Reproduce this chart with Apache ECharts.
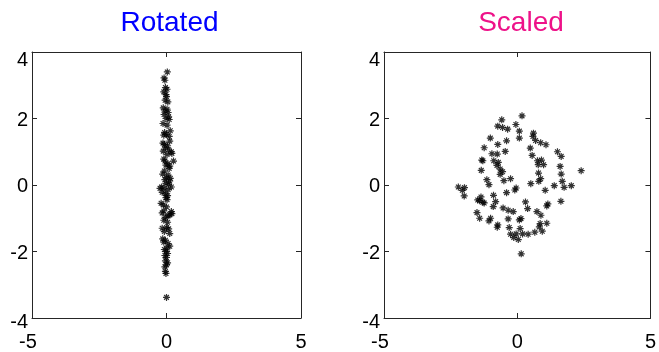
<!DOCTYPE html>
<html>
<head>
<meta charset="utf-8">
<script src="https://cdn.jsdelivr.net/npm/echarts@6/dist/echarts.min.js"></script>
<style>
  html, body { margin: 0; padding: 0; background: #fff; }
  #chart { width: 659px; height: 352px; }
</style>
</head>
<body>
<div id="chart"></div>
<script>
// Panel titles
const panelTitles = ['Rotated', 'Scaled'];

// Axis ticks shared by both panels
const xTicks = [-5, 0, 5];
const yTicks = [-4, -2, 0, 2, 4];

// Samples after rotation onto the principal axes
const rotatedPoints = [
  [0.03, 3.40], [-0.09, 3.22], [-0.06, 3.15], [-0.04, 2.93], [0.02, 2.88],
  [-0.10, 2.80], [-0.02, 2.72], [0.00, 2.66], [-0.05, 2.55], [0.05, 2.50],
  [-0.12, 2.32], [0.02, 2.28], [-0.05, 2.22], [0.06, 2.18], [-0.09, 2.12],
  [0.08, 2.05], [-0.02, 2.00], [0.10, 1.97],
  [-0.13, 1.85], [0.02, 1.80], [0.14, 1.63], [-0.07, 1.58], [0.00, 1.52],
  [0.10, 1.46], [-0.10, 1.50],
  [-0.13, 1.26], [-0.08, 1.22], [0.04, 1.18], [0.12, 1.32], [-0.04, 1.12],
  [0.08, 1.06], [0.18, 1.00], [-0.12, 1.02],
  [0.02, 0.92], [0.20, 0.95], [-0.10, 0.78], [-0.06, 0.72], [0.26, 0.72],
  [0.05, 0.64], [0.12, 0.57], [-0.02, 0.60], [0.10, 0.50],
  [-0.08, 0.42], [-0.14, 0.33], [0.06, 0.30], [0.00, 0.22], [0.14, 0.20],
  [-0.06, 0.16], [0.12, 0.12], [-0.02, 0.05], [0.08, 0.02],
  [-0.24, -0.10], [-0.18, -0.06], [-0.09, -0.10], [0.18, -0.06], [0.06, -0.14],
  [-0.16, -0.22], [-0.04, -0.26], [0.04, -0.32], [-0.02, -0.38], [0.02, -0.44],
  [-0.20, -0.55], [-0.12, -0.60], [0.00, -0.66], [-0.10, -0.78], [-0.16, -0.84],
  [0.18, -0.80], [0.20, -0.86], [0.06, -0.92], [-0.04, -0.98], [0.12, -0.90],
  [-0.10, -1.06], [0.04, -1.12], [-0.16, -1.30], [0.00, -1.28], [0.08, -1.32],
  [-0.08, -1.40], [0.12, -1.46],
  [-0.14, -1.62], [-0.04, -1.66], [-0.10, -1.72], [0.06, -1.76], [0.12, -1.84],
  [0.02, -1.90], [-0.08, -1.94], [-0.02, -2.00],
  [0.04, -2.06], [-0.06, -2.12], [0.00, -2.18], [-0.04, -2.28], [0.04, -2.34],
  [0.00, -2.40], [-0.06, -2.46],
  [-0.04, -2.60], [-0.02, -2.66], [0.00, -3.38]
];

// The same samples scaled to unit variance on each axis
const scaledPoints = [
  [0.18, 2.08], [-0.58, 1.96], [-0.73, 1.77], [-0.55, 1.73], [-0.36, 1.68],
  [-0.05, 1.82], [0.08, 1.62], [0.08, 1.41], [0.61, 1.56], [0.59, 1.46],
  [0.69, 1.34], [0.88, 1.27], [1.08, 1.21], [-1.01, 1.41], [-0.40, 1.33],
  [-1.24, 1.12], [-0.73, 1.22], [0.49, 1.11], [1.51, 1.00], [1.65, 0.86],
  [0.56, 0.89], [-0.95, 0.94], [-0.75, 0.93], [-0.45, 1.01], [-1.33, 0.75],
  [-1.29, 0.73], [-0.88, 0.73], [-0.71, 0.68], [-0.76, 0.59], [-0.64, 0.48],
  [-0.55, 0.40], [-0.64, 0.32], [-0.50, 0.13], [-0.25, 0.19], [-1.35, 0.44],
  [-1.14, 0.16], [-1.06, 0.01], [0.76, 0.73], [0.91, 0.75], [0.99, 0.61],
  [0.79, 0.61], [0.80, 0.36], [0.81, 0.11], [0.88, 0.19], [0.51, 0.04],
  [1.61, 0.56], [1.65, 0.33], [1.69, 0.11], [1.76, -0.07], [2.03, -0.02],
  [2.40, 0.43], [1.39, -0.02], [1.05, -0.16], [1.64, -0.49], [1.15, -0.57],
  [1.11, -0.63], [-0.04, -0.09], [-0.09, -0.15], [-0.40, -0.23], [-2.21, -0.06],
  [-2.06, -0.16], [-1.98, -0.08], [-1.99, -0.33], [-1.36, -0.36], [-1.41, -0.47],
  [-1.29, -0.52], [-1.24, -0.54], [-1.48, -0.45], [-0.89, -0.31], [-0.81, -0.50],
  [-0.90, -0.65], [-1.51, -0.83], [-1.41, -1.00], [-1.00, -1.00], [-1.06, -1.08],
  [-0.73, -1.20], [-0.75, -1.27], [-0.53, -0.69], [-0.34, -0.76], [-0.15, -0.80],
  [0.31, -0.51], [0.39, -0.71], [-0.34, -1.02], [-0.30, -1.28], [-0.25, -1.48],
  [-0.13, -1.58], [0.04, -1.64], [-0.04, -1.47], [0.11, -1.31], [0.08, -1.05],
  [0.14, -1.01], [0.20, -1.47], [0.41, -1.48], [0.66, -1.42], [0.74, -0.80],
  [0.89, -0.91], [0.86, -1.16], [0.83, -1.26], [0.94, -1.39], [1.11, -1.15],
  [0.15, -2.07]
];

const FONT = "'Liberation Sans', Arial, Helvetica, sans-serif";
const AXIS_COLOR = '#262626';
const TITLE_COLORS = ['#0000ff', '#ee1289'];

// Asterisk marker drawn as stroked segments
const STAR = 'path://M0,5L10,5M5,0L5,10M1.6,1.6L8.4,8.4M1.6,8.4L8.4,1.6';

const grids = [
  { left: 32, top: 52, width: 269, height: 269 },
  { left: 384, top: 52, width: 268, height: 269 }
];

function xLabelFormatter(v) {
  return v === xTicks[0] ? '{neg|' + v + '}' : '{n|' + v + '}';
}
function yLabelFormatter(v) {
  if (v === yTicks[yTicks.length - 1]) return '{top|' + v + '}';
  if (v === yTicks[0]) return '{bot|' + v + '}';
  return '{n|' + v + '}';
}

const labelBase = { color: '#000', fontSize: 20, fontFamily: FONT };

const xAxes = [], yAxes = [], series = [], titles = [];
[rotatedPoints, scaledPoints].forEach((pts, i) => {
  const axisLine = { show: true, onZero: false, lineStyle: { color: AXIS_COLOR, width: 1 } };
  const tick = { show: true, inside: true, length: 5, lineStyle: { color: AXIS_COLOR } };
  xAxes.push({
    gridIndex: i, type: 'value', position: 'bottom',
    min: xTicks[0], max: xTicks[xTicks.length - 1], interval: 5,
    axisLine, axisTick: tick, splitLine: { show: false },
    axisLabel: {
      margin: 14, formatter: xLabelFormatter, ...labelBase,
      rich: {
        n: { ...labelBase },
        neg: { ...labelBase, padding: [0, 8, 0, 0] }
      }
    }
  });
  xAxes.push({
    gridIndex: i, type: 'value', position: 'top',
    min: xTicks[0], max: xTicks[xTicks.length - 1], interval: 5,
    axisLine, axisTick: tick, splitLine: { show: false }, axisLabel: { show: false }
  });
  yAxes.push({
    gridIndex: i, type: 'value', position: 'left',
    min: yTicks[0], max: yTicks[yTicks.length - 1], interval: 2,
    axisLine, axisTick: tick, splitLine: { show: false },
    axisLabel: {
      margin: 4, formatter: yLabelFormatter, ...labelBase,
      rich: {
        n: { ...labelBase, padding: [3, 0, 0, 0] },
        top: { ...labelBase, padding: [17, 0, 0, 0] },
        bot: { ...labelBase, padding: [8, 0, 0, 0] }
      }
    }
  });
  yAxes.push({
    gridIndex: i, type: 'value', position: 'right',
    min: yTicks[0], max: yTicks[yTicks.length - 1], interval: 2,
    axisLine, axisTick: tick, splitLine: { show: false }, axisLabel: { show: false }
  });
  series.push({
    type: 'scatter',
    xAxisIndex: i * 2, yAxisIndex: i * 2,
    data: pts,
    symbol: STAR, symbolSize: 7,
    itemStyle: { color: 'rgba(0,0,0,0)', borderColor: '#000', borderWidth: 1.2 },
    silent: true, animation: false
  });
  titles.push({
    text: panelTitles[i],
    left: grids[i].left + grids[i].width / 2 - 2, top: 4,
    textAlign: 'center',
    textStyle: { color: TITLE_COLORS[i], fontSize: 28, fontWeight: 'normal', fontFamily: FONT }
  });
});

const chart = echarts.init(document.getElementById('chart'), null, { renderer: 'canvas' });
chart.setOption({
  backgroundColor: '#fff',
  animation: false,
  title: titles,
  grid: grids,
  xAxis: xAxes,
  yAxis: yAxes,
  series
});
</script>
</body>
</html>
